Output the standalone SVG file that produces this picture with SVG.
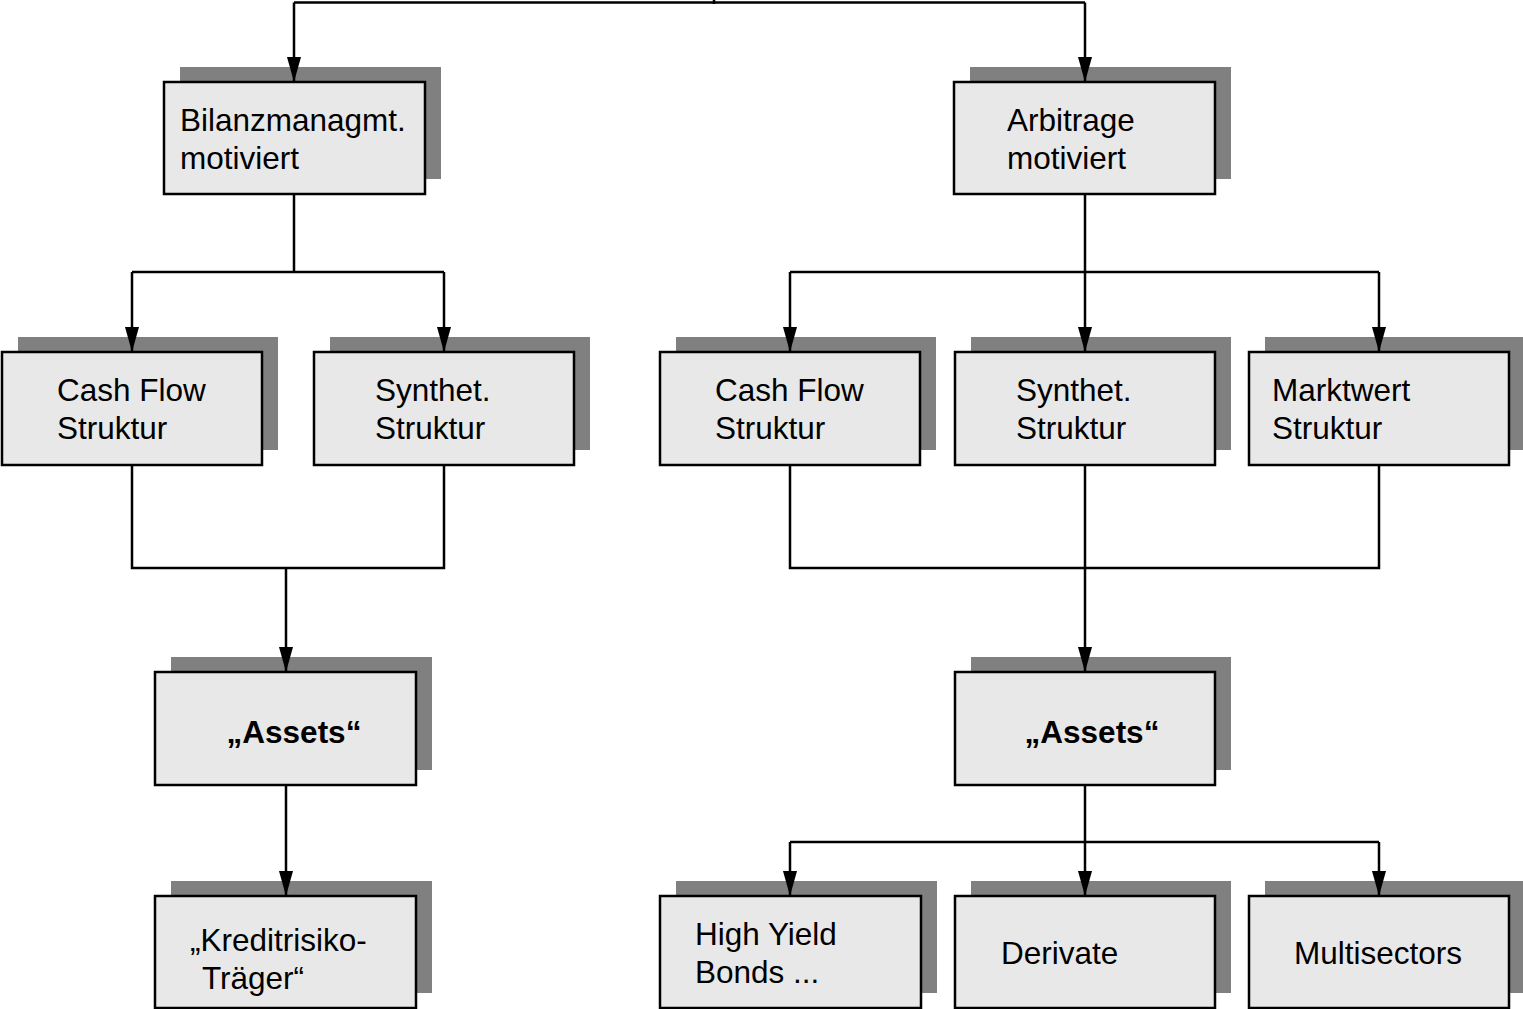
<svg xmlns="http://www.w3.org/2000/svg" width="1523" height="1009" viewBox="0 0 1523 1009">
<defs>
<marker id="arr" markerUnits="userSpaceOnUse" markerWidth="25" markerHeight="14" refX="25" refY="7" orient="auto">
<path d="M0,0 L25,7 L0,14 z" fill="#000"/>
</marker>
<style>
.sh{fill:#808080;stroke:none}
.bx{fill:#e8e8e8;stroke:#000;stroke-width:2.5}
.t{font-family:"Liberation Sans",Arial,sans-serif;font-size:31.5px;fill:#000}
.b{font-weight:bold;text-anchor:middle}
.c{fill:none;stroke:#000;stroke-width:2.5}
.a{fill:none;stroke:#000;stroke-width:2.5;marker-end:url(#arr)}
</style>
</defs>
<rect width="1523" height="1009" fill="#fff"/>
<g id="bilanz">
<rect class="sh" x="180" y="67" width="261" height="112"/>
<rect class="bx" x="164" y="82" width="261" height="112"/>
<text class="t" x="180" y="131">Bilanzmanagmt.</text>
<text class="t" x="180" y="169">motiviert</text>
</g>
<g id="arbitrage">
<rect class="sh" x="970" y="67" width="261" height="112"/>
<rect class="bx" x="954" y="82" width="261" height="112"/>
<text class="t" x="1007" y="131">Arbitrage</text>
<text class="t" x="1007" y="169">motiviert</text>
</g>
<g id="cashflow-left">
<rect class="sh" x="18" y="337" width="260" height="113"/>
<rect class="bx" x="2" y="352" width="260" height="113"/>
<text class="t" x="57" y="401">Cash Flow</text>
<text class="t" x="57" y="439">Struktur</text>
</g>
<g id="synthet-left">
<rect class="sh" x="330" y="337" width="260" height="113"/>
<rect class="bx" x="314" y="352" width="260" height="113"/>
<text class="t" x="375" y="401">Synthet.</text>
<text class="t" x="375" y="439">Struktur</text>
</g>
<g id="cashflow-right">
<rect class="sh" x="676" y="337" width="260" height="113"/>
<rect class="bx" x="660" y="352" width="260" height="113"/>
<text class="t" x="715" y="401">Cash Flow</text>
<text class="t" x="715" y="439">Struktur</text>
</g>
<g id="synthet-right">
<rect class="sh" x="971" y="337" width="260" height="113"/>
<rect class="bx" x="955" y="352" width="260" height="113"/>
<text class="t" x="1016" y="401">Synthet.</text>
<text class="t" x="1016" y="439">Struktur</text>
</g>
<g id="marktwert">
<rect class="sh" x="1265" y="337" width="260" height="113"/>
<rect class="bx" x="1249" y="352" width="260" height="113"/>
<text class="t" x="1272" y="401">Marktwert</text>
<text class="t" x="1272" y="439">Struktur</text>
</g>
<g id="assets-left">
<rect class="sh" x="171" y="657" width="261" height="113"/>
<rect class="bx" x="155" y="672" width="261" height="113"/>
<text class="t b" x="294" y="743">„Assets“</text>
</g>
<g id="assets-right">
<rect class="sh" x="971" y="657" width="260" height="113"/>
<rect class="bx" x="955" y="672" width="260" height="113"/>
<text class="t b" x="1092" y="743">„Assets“</text>
</g>
<g id="kreditrisiko">
<rect class="sh" x="171" y="881" width="261" height="112"/>
<rect class="bx" x="155" y="896" width="261" height="112"/>
<text class="t" x="190" y="951">„Kreditrisiko-</text>
<text class="t" x="202" y="989">Träger“</text>
</g>
<g id="highyield">
<rect class="sh" x="676" y="881" width="261" height="112"/>
<rect class="bx" x="660" y="896" width="261" height="112"/>
<text class="t" x="695" y="945">High Yield</text>
<text class="t" x="695" y="983">Bonds ...</text>
</g>
<g id="derivate">
<rect class="sh" x="971" y="881" width="260" height="112"/>
<rect class="bx" x="955" y="896" width="260" height="112"/>
<text class="t" x="1001" y="964">Derivate</text>
</g>
<g id="multisectors">
<rect class="sh" x="1265" y="881" width="260" height="112"/>
<rect class="bx" x="1249" y="896" width="260" height="112"/>
<text class="t" x="1294" y="964">Multisectors</text>
</g>
<g id="connectors">
<path class="c" d="M294,2.5 H1085"/>
<path class="c" d="M714,0 V4" stroke-width="3"/>
<path class="a" d="M294,2.5 V82"/>
<path class="a" d="M1085,2.5 V82"/>
<path class="c" d="M294,195 V272"/>
<path class="c" d="M132,272 H444"/>
<path class="a" d="M132,272 V352"/>
<path class="a" d="M444,272 V352"/>
<path class="a" d="M1085,195 V352"/>
<path class="c" d="M790,272 H1379"/>
<path class="a" d="M790,272 V352"/>
<path class="a" d="M1379,272 V352"/>
<path class="c" d="M132,466 V568 H444 V466"/>
<path class="a" d="M286,568 V672"/>
<path class="c" d="M790,466 V568 H1379 V466"/>
<path class="a" d="M1085,466 V672"/>
<path class="a" d="M286,786 V896"/>
<path class="c" d="M1085,786 V842"/>
<path class="c" d="M790,842 H1379"/>
<path class="a" d="M790,842 V896"/>
<path class="a" d="M1085,842 V896"/>
<path class="a" d="M1379,842 V896"/>
</g>
</svg>
